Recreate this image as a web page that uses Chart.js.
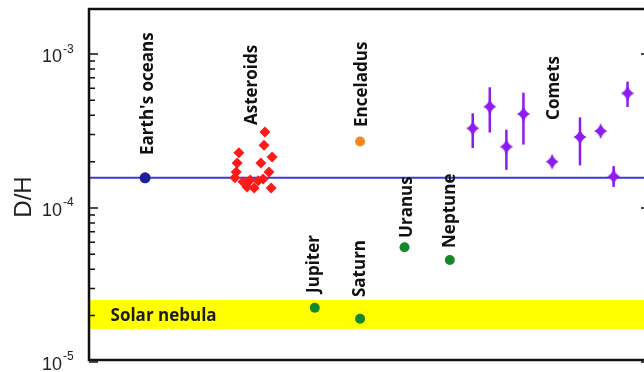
<!DOCTYPE html>
<html>
<head>
<meta charset="utf-8">
<script src="https://cdn.jsdelivr.net/npm/chart.js@4.4.1/dist/chart.umd.min.js"></script>
<style>
  html, body { margin: 0; padding: 0; background: #fff; overflow: hidden; width: 644px; height: 372px; }
  #wrap { width: 660px; height: 372px; }
</style>
</head>
<body>
<div id="wrap"><canvas id="dh" width="660" height="372"></canvas></div>
<script>
// D/H ratios of water and hydrogen reservoirs in the Solar System
const majorTicks = [1e-5, 1e-4, 1e-3];
const tickExponents = ['-5', '-4', '-3'];

const oceanLevel = 1.57e-4;
const earthX = [1.25];
const earthDH = [1.57e-4];

const asteroidX  = [3.92, 3.90, 4.08, 3.83, 3.34, 3.30, 4.01, 3.28, 3.25, 3.43, 3.59, 3.77, 3.52, 3.68, 4.06, 3.88];
const asteroidDH = [3.12e-4, 2.56e-4, 2.14e-4, 1.96e-4, 2.28e-4, 1.96e-4, 1.71e-4, 1.71e-4,
                    1.57e-4, 1.48e-4, 1.52e-4, 1.50e-4, 1.37e-4, 1.35e-4, 1.35e-4, 1.54e-4];

const enceladusX = [6.04];
const enceladusDH = [2.70e-4];

const planetNames = ['Jupiter', 'Saturn', 'Uranus', 'Neptune'];
const planetX  = [5.03, 6.04, 7.03, 8.04];
const planetDH = [2.25e-5, 1.91e-5, 5.56e-5, 4.60e-5];

const cometX    = [8.55, 8.93, 9.30, 9.68, 10.32, 10.94, 11.40, 11.69, 12.00];
const cometDH   = [3.29e-4, 4.55e-4, 2.50e-4, 4.08e-4, 2.00e-4, 2.89e-4, 3.16e-4, 1.60e-4, 5.56e-4];
const cometLow  = [2.45e-4, 3.09e-4, 1.77e-4, 2.58e-4, null, 1.89e-4, null, 1.37e-4, 4.53e-4];
const cometHigh = [4.12e-4, 6.08e-4, 3.22e-4, 5.61e-4, null, 3.88e-4, null, 1.87e-4, 6.61e-4];

const nebulaRange = [1.64e-5, 2.53e-5];

// text annotations, anchored in data space (x, D/H at the start of the text)
const annotations = [
  { text: "Earth's oceans", x: 1.43,  y: 2.21e-4 },
  { text: 'Asteroids',      x: 3.74,  y: 3.46e-4 },
  { text: 'Enceladus',      x: 6.19,  y: 3.36e-4 },
  { text: 'Comets',         x: 10.47, y: 3.73e-4 },
  { text: planetNames[0],   x: 5.13,  y: 2.81e-5 },
  { text: planetNames[1],   x: 6.15,  y: 2.64e-5 },
  { text: planetNames[2],   x: 7.19,  y: 6.39e-5 },
  { text: planetNames[3],   x: 8.16,  y: 5.50e-5 }
];
const nebulaLabel = { text: 'Solar nebula', x: 0.48, y: 1.85e-5 };

const PURPLE = '#8c1cf0';

function makeStar(color) {
  const c = document.createElement('canvas');
  c.width = 16; c.height = 18;
  const g = c.getContext('2d');
  g.translate(8, 9);
  g.fillStyle = color;
  g.beginPath();
  g.moveTo(0, -8);
  g.quadraticCurveTo(2.0, -2.0, 6.6, 0);
  g.quadraticCurveTo(2.0, 2.0, 0, 8);
  g.quadraticCurveTo(-2.0, 2.0, -6.6, 0);
  g.quadraticCurveTo(-2.0, -2.0, 0, -8);
  g.closePath();
  g.fill();
  return c;
}

const pts = (xs, ys) => xs.map((x, i) => ({ x: x, y: ys[i] }));

const underlay = {
  id: 'underlay',
  beforeDatasetsDraw(chart) {
    const { ctx, chartArea: a, scales: { x, y } } = chart;
    ctx.save();
    // solar nebula band
    const yTop = y.getPixelForValue(nebulaRange[1]);
    const yBot = y.getPixelForValue(nebulaRange[0]);
    ctx.fillStyle = '#ffff00';
    ctx.fillRect(a.left, yTop, a.right - a.left, yBot - yTop);
    ctx.fillStyle = '#1a1a1a';
    ctx.font = 'bold 17px "Open Sans"';
    ctx.textAlign = 'left';
    ctx.textBaseline = 'alphabetic';
    ctx.fillText(nebulaLabel.text, x.getPixelForValue(nebulaLabel.x), y.getPixelForValue(nebulaLabel.y));
    // terrestrial ocean reference line
    const yo = y.getPixelForValue(oceanLevel);
    ctx.strokeStyle = '#3a3ad6';
    ctx.lineWidth = 2;
    ctx.beginPath();
    ctx.moveTo(a.left, yo);
    ctx.lineTo(a.right, yo);
    ctx.stroke();
    // comet error bars
    ctx.strokeStyle = PURPLE;
    ctx.lineWidth = 2.5;
    cometX.forEach((cx, i) => {
      if (cometLow[i] == null) return;
      const px = x.getPixelForValue(cx);
      ctx.beginPath();
      ctx.moveTo(px, y.getPixelForValue(cometLow[i]));
      ctx.lineTo(px, y.getPixelForValue(cometHigh[i]));
      ctx.stroke();
    });
    ctx.restore();
  }
};

const overlay = {
  id: 'overlay',
  afterDatasetsDraw(chart) {
    const { ctx, chartArea: a, scales: { x, y } } = chart;
    ctx.save();
    // frame
    ctx.strokeStyle = '#111';
    ctx.lineWidth = 2.5;
    ctx.strokeRect(a.left, a.top, a.right - a.left, a.bottom - a.top);
    // ticks (inward, both sides)
    ctx.lineWidth = 1.5;
    const drawTick = (v, len) => {
      const py = y.getPixelForValue(v);
      ctx.beginPath();
      ctx.moveTo(a.left, py); ctx.lineTo(a.left + len, py);
      ctx.moveTo(a.right, py); ctx.lineTo(a.right - len, py);
      ctx.stroke();
    };
    majorTicks.forEach(m => {
      drawTick(m, 9);
      for (let k = 2; k <= 9; k++) {
        const v = m * k;
        if (v > y.min && v < y.max) drawTick(v, 6);
      }
    });
    // tick labels
    ctx.fillStyle = '#222';
    majorTicks.forEach((m, i) => {
      const py = y.getPixelForValue(m);
      ctx.font = '18px "Liberation Sans", Arial, sans-serif';
      ctx.textAlign = 'right';
      ctx.textBaseline = 'alphabetic';
      ctx.fillText('10', 62, py + 8);
      ctx.font = '12px "Liberation Sans", Arial, sans-serif';
      ctx.textAlign = 'left';
      ctx.fillText(tickExponents[i], 63, py - 1.5);
    });
    // axis title
    ctx.save();
    ctx.translate(31, 197);
    ctx.rotate(-Math.PI / 2);
    ctx.font = '24px "Liberation Sans", Arial, sans-serif';
    ctx.textAlign = 'center';
    ctx.fillText('D/H', 0, 0);
    ctx.restore();
    // object labels, reading bottom to top
    ctx.fillStyle = '#111';
    ctx.font = 'bold 17px "Open Sans"';
    annotations.forEach(l => {
      ctx.save();
      ctx.translate(x.getPixelForValue(l.x), y.getPixelForValue(l.y));
      ctx.rotate(-Math.PI / 2);
      ctx.textAlign = 'left';
      ctx.textBaseline = 'alphabetic';
      ctx.fillText(l.text, 0, 0);
      ctx.restore();
    });
    ctx.restore();
  }
};

new Chart(document.getElementById('dh'), {
  type: 'scatter',
  data: {
    datasets: [
      { label: "Earth's oceans", data: pts(earthX, earthDH), pointStyle: 'circle', pointRadius: 5.5,
        backgroundColor: '#1f1f9c', borderColor: '#1f1f9c', borderWidth: 0 },
      { label: 'Asteroids', data: pts(asteroidX, asteroidDH), pointStyle: 'rectRot', pointRadius: 5.5,
        backgroundColor: '#ff1a1a', borderColor: '#ff1a1a', borderWidth: 0 },
      { label: 'Enceladus', data: pts(enceladusX, enceladusDH), pointStyle: 'circle', pointRadius: 5,
        backgroundColor: '#f7861c', borderColor: '#f7861c', borderWidth: 0 },
      { label: 'Giant planets', data: pts(planetX, planetDH), pointStyle: 'circle', pointRadius: 5,
        backgroundColor: '#13882a', borderColor: '#13882a', borderWidth: 0 },
      { label: 'Comets', data: pts(cometX, cometDH), pointStyle: makeStar(PURPLE), pointRadius: 7 }
    ]
  },
  options: {
    responsive: false,
    animation: false,
    devicePixelRatio: 1,
    layout: { padding: { left: 89, right: 10, top: 9, bottom: 12 } },
    plugins: { legend: { display: false }, tooltip: { enabled: false } },
    scales: {
      x: { type: 'linear', min: 0, max: 12.5, display: false },
      y: { type: 'logarithmic', min: 1.03e-5, max: 1.96e-3, display: false }
    }
  },
  plugins: [underlay, overlay]
});
</script>
</body>
</html>
